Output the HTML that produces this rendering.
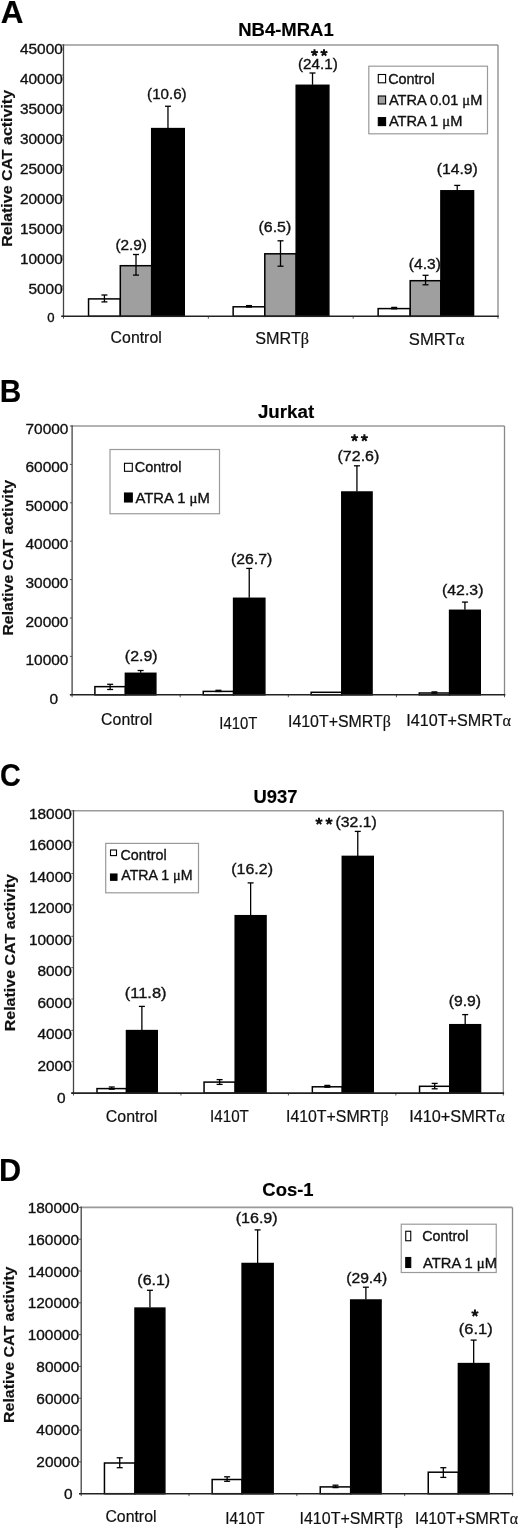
<!DOCTYPE html>
<html><head><meta charset="utf-8"><style>
html,body{margin:0;padding:0;background:#fff;width:520px;height:1529px;overflow:hidden}
svg{display:block;will-change:transform;filter:blur(0.3px)}
text{font-family:"Liberation Sans",sans-serif}
</style></head><body>
<svg width="520" height="1529" viewBox="0 0 520 1529">
<rect width="520" height="1529" fill="#fff"/>
<text transform="translate(0.76,22.50) scale(1.0225,1)" font-size="30.8" font-weight="bold" fill="#000" stroke="#000" stroke-width="0.15">A</text>
<text transform="translate(238.21,35.50) scale(1.0273,1)" font-size="18" font-weight="bold" fill="#000" stroke="#000" stroke-width="0.15">NB4-MRA1</text>
<text transform="translate(11.70,246.72) rotate(-90) scale(1.1017,1)" font-size="14.5" font-weight="bold" fill="#111" stroke="#111" stroke-width="0.15">Relative CAT activity</text>
<text transform="translate(19.95,53.90) scale(1.0350,1)" font-size="14.9" fill="#111" stroke="#111" stroke-width="0.35">45000</text>
<text transform="translate(19.95,83.93) scale(1.0350,1)" font-size="14.9" fill="#111" stroke="#111" stroke-width="0.35">40000</text>
<text transform="translate(19.95,113.96) scale(1.0350,1)" font-size="14.9" fill="#111" stroke="#111" stroke-width="0.35">35000</text>
<text transform="translate(19.95,143.99) scale(1.0350,1)" font-size="14.9" fill="#111" stroke="#111" stroke-width="0.35">30000</text>
<text transform="translate(19.95,174.02) scale(1.0350,1)" font-size="14.9" fill="#111" stroke="#111" stroke-width="0.35">25000</text>
<text transform="translate(19.95,204.05) scale(1.0350,1)" font-size="14.9" fill="#111" stroke="#111" stroke-width="0.35">20000</text>
<text transform="translate(19.95,234.08) scale(1.0350,1)" font-size="14.9" fill="#111" stroke="#111" stroke-width="0.35">15000</text>
<text transform="translate(19.95,264.11) scale(1.0350,1)" font-size="14.9" fill="#111" stroke="#111" stroke-width="0.35">10000</text>
<text transform="translate(28.43,294.14) scale(1.0350,1)" font-size="14.9" fill="#111" stroke="#111" stroke-width="0.35">5000</text>
<text transform="translate(47.26,322.00) scale(1.0350,1)" font-size="12.7" fill="#111" stroke="#111" stroke-width="0.35">0</text>
<line x1="61.30" y1="45.00" x2="63.50" y2="45.00" stroke="#555" stroke-width="1.0"/>
<line x1="61.30" y1="75.14" x2="63.50" y2="75.14" stroke="#555" stroke-width="1.0"/>
<line x1="61.30" y1="105.29" x2="63.50" y2="105.29" stroke="#555" stroke-width="1.0"/>
<line x1="61.30" y1="135.43" x2="63.50" y2="135.43" stroke="#555" stroke-width="1.0"/>
<line x1="61.30" y1="165.58" x2="63.50" y2="165.58" stroke="#555" stroke-width="1.0"/>
<line x1="61.30" y1="195.72" x2="63.50" y2="195.72" stroke="#555" stroke-width="1.0"/>
<line x1="61.30" y1="225.87" x2="63.50" y2="225.87" stroke="#555" stroke-width="1.0"/>
<line x1="61.30" y1="256.01" x2="63.50" y2="256.01" stroke="#555" stroke-width="1.0"/>
<line x1="61.30" y1="286.16" x2="63.50" y2="286.16" stroke="#555" stroke-width="1.0"/>
<line x1="61.30" y1="316.30" x2="63.50" y2="316.30" stroke="#555" stroke-width="1.0"/>
<line x1="63.50" y1="316.30" x2="63.50" y2="318.70" stroke="#555" stroke-width="1.0"/>
<line x1="208.33" y1="316.30" x2="208.33" y2="318.70" stroke="#555" stroke-width="1.0"/>
<line x1="353.17" y1="316.30" x2="353.17" y2="318.70" stroke="#555" stroke-width="1.0"/>
<line x1="498.00" y1="316.30" x2="498.00" y2="318.70" stroke="#555" stroke-width="1.0"/>
<rect x="88.55" y="298.90" width="31.75" height="17.40" fill="#fff" stroke="#000" stroke-width="1.5"/>
<rect x="120.30" y="265.70" width="31.40" height="50.60" fill="#9f9f9f" stroke="#000" stroke-width="1.5"/>
<rect x="151.70" y="128.60" width="32.55" height="187.70" fill="#000" stroke="#000" stroke-width="1.5"/>
<line x1="104.42" y1="295.00" x2="104.42" y2="301.90" stroke="#000" stroke-width="1.3"/>
<line x1="101.42" y1="295.00" x2="107.42" y2="295.00" stroke="#000" stroke-width="1.3"/>
<line x1="101.42" y1="301.90" x2="107.42" y2="301.90" stroke="#000" stroke-width="1.3"/>
<line x1="136.00" y1="254.50" x2="136.00" y2="275.10" stroke="#000" stroke-width="1.3"/>
<line x1="133.00" y1="254.50" x2="139.00" y2="254.50" stroke="#000" stroke-width="1.3"/>
<line x1="133.00" y1="275.10" x2="139.00" y2="275.10" stroke="#000" stroke-width="1.3"/>
<line x1="167.97" y1="106.25" x2="167.97" y2="128.10" stroke="#000" stroke-width="1.3"/>
<line x1="164.97" y1="106.25" x2="170.97" y2="106.25" stroke="#000" stroke-width="1.3"/>
<rect x="233.15" y="306.80" width="31.65" height="9.50" fill="#fff" stroke="#000" stroke-width="1.5"/>
<rect x="264.80" y="253.80" width="31.40" height="62.50" fill="#9f9f9f" stroke="#000" stroke-width="1.5"/>
<rect x="296.20" y="85.30" width="32.65" height="231.00" fill="#000" stroke="#000" stroke-width="1.5"/>
<line x1="248.98" y1="305.60" x2="248.98" y2="307.00" stroke="#000" stroke-width="1.3"/>
<line x1="245.98" y1="305.60" x2="251.98" y2="305.60" stroke="#000" stroke-width="1.3"/>
<line x1="245.98" y1="307.00" x2="251.98" y2="307.00" stroke="#000" stroke-width="1.3"/>
<line x1="280.50" y1="240.80" x2="280.50" y2="266.20" stroke="#000" stroke-width="1.3"/>
<line x1="277.50" y1="240.80" x2="283.50" y2="240.80" stroke="#000" stroke-width="1.3"/>
<line x1="277.50" y1="266.20" x2="283.50" y2="266.20" stroke="#000" stroke-width="1.3"/>
<line x1="312.52" y1="73.00" x2="312.52" y2="84.80" stroke="#000" stroke-width="1.3"/>
<line x1="309.52" y1="73.00" x2="315.52" y2="73.00" stroke="#000" stroke-width="1.3"/>
<rect x="378.15" y="308.60" width="32.05" height="7.70" fill="#fff" stroke="#000" stroke-width="1.5"/>
<rect x="410.20" y="280.70" width="30.70" height="35.60" fill="#9f9f9f" stroke="#000" stroke-width="1.5"/>
<rect x="440.90" y="190.80" width="32.65" height="125.50" fill="#000" stroke="#000" stroke-width="1.5"/>
<line x1="394.17" y1="307.40" x2="394.17" y2="308.80" stroke="#000" stroke-width="1.3"/>
<line x1="391.17" y1="307.40" x2="397.17" y2="307.40" stroke="#000" stroke-width="1.3"/>
<line x1="391.17" y1="308.80" x2="397.17" y2="308.80" stroke="#000" stroke-width="1.3"/>
<line x1="425.55" y1="275.30" x2="425.55" y2="284.80" stroke="#000" stroke-width="1.3"/>
<line x1="422.55" y1="275.30" x2="428.55" y2="275.30" stroke="#000" stroke-width="1.3"/>
<line x1="422.55" y1="284.80" x2="428.55" y2="284.80" stroke="#000" stroke-width="1.3"/>
<line x1="457.23" y1="185.40" x2="457.23" y2="190.30" stroke="#000" stroke-width="1.3"/>
<line x1="454.23" y1="185.40" x2="460.23" y2="185.40" stroke="#000" stroke-width="1.3"/>
<line x1="63.50" y1="45.00" x2="498.00" y2="45.00" stroke="#999" stroke-width="1.6"/>
<line x1="498.00" y1="45.00" x2="498.00" y2="316.30" stroke="#888" stroke-width="1.3"/>
<line x1="63.50" y1="44.20" x2="63.50" y2="316.30" stroke="#444" stroke-width="1.3"/>
<line x1="61.30" y1="316.30" x2="498.80" y2="316.30" stroke="#222" stroke-width="1.6"/>
<rect x="368.80" y="66.20" width="118.70" height="67.60" fill="#fff" stroke="#9a9a9a" stroke-width="1.2"/>
<rect x="378.30" y="74.50" width="7.30" height="8.30" fill="#fff" stroke="#000" stroke-width="1.1"/>
<text transform="translate(388.18,83.80) scale(1.0301,1)" font-size="14" fill="#111" stroke="#111" stroke-width="0.35">Control</text>
<rect x="378.30" y="96.00" width="7.30" height="8.00" fill="#9f9f9f" stroke="#000" stroke-width="1.1"/>
<text transform="translate(388.90,105.00) scale(1.0421,1)" font-size="14" fill="#111" stroke="#111" stroke-width="0.35">ATRA 0.01 <tspan font-family="Liberation Serif">μ</tspan>M</text>
<rect x="378.30" y="117.60" width="7.30" height="8.00" fill="#000" stroke="#000" stroke-width="1.1"/>
<text transform="translate(388.90,126.30) scale(1.0461,1)" font-size="14" fill="#111" stroke="#111" stroke-width="0.35">ATRA 1 <tspan font-family="Liberation Serif">μ</tspan>M</text>
<text transform="translate(110.61,342.60) scale(0.9735,1)" font-size="16.3" fill="#111" stroke="#111" stroke-width="0.2">Control</text>
<text transform="translate(255.29,343.80) scale(0.9934,1)" font-size="16.3" fill="#111" stroke="#111" stroke-width="0.2">SMRT<tspan font-family="Liberation Serif">β</tspan></text>
<text transform="translate(408.87,344.80) scale(1.0200,1)" font-size="16.3" fill="#111" stroke="#111" stroke-width="0.2">SMRT<tspan font-family="Liberation Serif">α</tspan></text>
<text transform="translate(115.38,249.50) scale(1.0540,1)" font-size="14.6" fill="#111" stroke="#111" stroke-width="0.35">(2.9)</text>
<text transform="translate(147.09,99.30) scale(1.0370,1)" font-size="14.6" fill="#111" stroke="#111" stroke-width="0.35">(10.6)</text>
<text transform="translate(258.55,232.00) scale(1.0895,1)" font-size="14.6" fill="#111" stroke="#111" stroke-width="0.35">(6.5)</text>
<text transform="translate(297.98,69.30) scale(1.0453,1)" font-size="14.6" fill="#111" stroke="#111" stroke-width="0.35">(24.1)</text>
<path d="M314.50,52.80L314.50,49.20M314.50,52.80L317.92,51.69M314.50,52.80L316.62,55.71M314.50,52.80L312.38,55.71M314.50,52.80L311.08,51.69" stroke="#111" stroke-width="2.0" stroke-linecap="butt" fill="none"/>
<path d="M324.00,52.80L324.00,49.20M324.00,52.80L327.42,51.69M324.00,52.80L326.12,55.71M324.00,52.80L321.88,55.71M324.00,52.80L320.58,51.69" stroke="#111" stroke-width="2.0" stroke-linecap="butt" fill="none"/>
<text transform="translate(436.76,173.80) scale(1.0755,1)" font-size="14.6" fill="#111" stroke="#111" stroke-width="0.35">(14.9)</text>
<text transform="translate(408.87,269.20) scale(1.0647,1)" font-size="14.6" fill="#111" stroke="#111" stroke-width="0.35">(4.3)</text>
<text transform="translate(-0.29,401.80) scale(0.9687,1)" font-size="30.8" font-weight="bold" fill="#000" stroke="#000" stroke-width="0.15">B</text>
<text transform="translate(257.92,417.90) scale(1.0419,1)" font-size="18" font-weight="bold" fill="#000" stroke="#000" stroke-width="0.15">Jurkat</text>
<text transform="translate(13.30,635.61) rotate(-90) scale(1.0940,1)" font-size="14.5" font-weight="bold" fill="#111" stroke="#111" stroke-width="0.15">Relative CAT activity</text>
<text transform="translate(25.55,433.65) scale(1.0350,1)" font-size="14.9" fill="#111" stroke="#111" stroke-width="0.35">70000</text>
<text transform="translate(25.55,472.25) scale(1.0350,1)" font-size="14.9" fill="#111" stroke="#111" stroke-width="0.35">60000</text>
<text transform="translate(25.55,510.85) scale(1.0350,1)" font-size="14.9" fill="#111" stroke="#111" stroke-width="0.35">50000</text>
<text transform="translate(25.55,549.45) scale(1.0350,1)" font-size="14.9" fill="#111" stroke="#111" stroke-width="0.35">40000</text>
<text transform="translate(25.55,588.05) scale(1.0350,1)" font-size="14.9" fill="#111" stroke="#111" stroke-width="0.35">30000</text>
<text transform="translate(25.55,626.65) scale(1.0350,1)" font-size="14.9" fill="#111" stroke="#111" stroke-width="0.35">20000</text>
<text transform="translate(25.55,665.25) scale(1.0350,1)" font-size="14.9" fill="#111" stroke="#111" stroke-width="0.35">10000</text>
<text transform="translate(49.48,703.50) scale(1.0350,1)" font-size="14.9" fill="#111" stroke="#111" stroke-width="0.35">0</text>
<line x1="69.90" y1="426.00" x2="72.10" y2="426.00" stroke="#555" stroke-width="1.0"/>
<line x1="69.90" y1="464.40" x2="72.10" y2="464.40" stroke="#555" stroke-width="1.0"/>
<line x1="69.90" y1="502.80" x2="72.10" y2="502.80" stroke="#555" stroke-width="1.0"/>
<line x1="69.90" y1="541.20" x2="72.10" y2="541.20" stroke="#555" stroke-width="1.0"/>
<line x1="69.90" y1="579.60" x2="72.10" y2="579.60" stroke="#555" stroke-width="1.0"/>
<line x1="69.90" y1="618.00" x2="72.10" y2="618.00" stroke="#555" stroke-width="1.0"/>
<line x1="69.90" y1="656.40" x2="72.10" y2="656.40" stroke="#555" stroke-width="1.0"/>
<line x1="69.90" y1="694.80" x2="72.10" y2="694.80" stroke="#555" stroke-width="1.0"/>
<line x1="72.10" y1="694.80" x2="72.10" y2="697.20" stroke="#555" stroke-width="1.0"/>
<line x1="180.20" y1="694.80" x2="180.20" y2="697.20" stroke="#555" stroke-width="1.0"/>
<line x1="288.30" y1="694.80" x2="288.30" y2="697.20" stroke="#555" stroke-width="1.0"/>
<line x1="396.40" y1="694.80" x2="396.40" y2="697.20" stroke="#555" stroke-width="1.0"/>
<line x1="504.50" y1="694.80" x2="504.50" y2="697.20" stroke="#555" stroke-width="1.0"/>
<rect x="94.90" y="686.65" width="30.50" height="8.15" fill="#fff" stroke="#000" stroke-width="1.5"/>
<rect x="125.40" y="673.30" width="30.45" height="21.50" fill="#000" stroke="#000" stroke-width="1.5"/>
<line x1="110.15" y1="684.30" x2="110.15" y2="689.50" stroke="#000" stroke-width="1.3"/>
<line x1="107.15" y1="684.30" x2="113.15" y2="684.30" stroke="#000" stroke-width="1.3"/>
<line x1="107.15" y1="689.50" x2="113.15" y2="689.50" stroke="#000" stroke-width="1.3"/>
<line x1="140.62" y1="670.50" x2="140.62" y2="672.80" stroke="#000" stroke-width="1.3"/>
<line x1="137.62" y1="670.50" x2="143.62" y2="670.50" stroke="#000" stroke-width="1.3"/>
<rect x="203.25" y="691.40" width="30.35" height="3.40" fill="#fff" stroke="#000" stroke-width="1.5"/>
<rect x="233.60" y="598.30" width="31.25" height="96.50" fill="#000" stroke="#000" stroke-width="1.5"/>
<line x1="218.43" y1="690.30" x2="218.43" y2="691.50" stroke="#000" stroke-width="1.3"/>
<line x1="215.43" y1="690.30" x2="221.43" y2="690.30" stroke="#000" stroke-width="1.3"/>
<line x1="215.43" y1="691.50" x2="221.43" y2="691.50" stroke="#000" stroke-width="1.3"/>
<line x1="249.23" y1="568.40" x2="249.23" y2="597.80" stroke="#000" stroke-width="1.3"/>
<line x1="246.23" y1="568.40" x2="252.23" y2="568.40" stroke="#000" stroke-width="1.3"/>
<rect x="311.15" y="692.30" width="30.65" height="2.50" fill="#fff" stroke="#000" stroke-width="1.5"/>
<rect x="341.80" y="492.00" width="30.25" height="202.80" fill="#000" stroke="#000" stroke-width="1.5"/>
<line x1="356.93" y1="465.80" x2="356.93" y2="491.50" stroke="#000" stroke-width="1.3"/>
<line x1="353.93" y1="465.80" x2="359.93" y2="465.80" stroke="#000" stroke-width="1.3"/>
<rect x="419.25" y="693.00" width="30.35" height="1.80" fill="#fff" stroke="#000" stroke-width="1.5"/>
<rect x="449.60" y="610.30" width="30.65" height="84.50" fill="#000" stroke="#000" stroke-width="1.5"/>
<line x1="434.43" y1="691.90" x2="434.43" y2="693.10" stroke="#000" stroke-width="1.3"/>
<line x1="431.43" y1="691.90" x2="437.43" y2="691.90" stroke="#000" stroke-width="1.3"/>
<line x1="431.43" y1="693.10" x2="437.43" y2="693.10" stroke="#000" stroke-width="1.3"/>
<line x1="464.93" y1="602.10" x2="464.93" y2="609.80" stroke="#000" stroke-width="1.3"/>
<line x1="461.93" y1="602.10" x2="467.93" y2="602.10" stroke="#000" stroke-width="1.3"/>
<line x1="72.10" y1="426.00" x2="504.50" y2="426.00" stroke="#999" stroke-width="1.6"/>
<line x1="504.50" y1="426.00" x2="504.50" y2="694.80" stroke="#888" stroke-width="1.3"/>
<line x1="72.10" y1="425.20" x2="72.10" y2="694.80" stroke="#444" stroke-width="1.3"/>
<line x1="69.90" y1="694.80" x2="505.30" y2="694.80" stroke="#222" stroke-width="1.6"/>
<rect x="110.00" y="449.50" width="109.50" height="64.25" fill="#fff" stroke="#9a9a9a" stroke-width="1.2"/>
<rect x="124.50" y="463.30" width="7.80" height="8.00" fill="#fff" stroke="#000" stroke-width="1.1"/>
<text transform="translate(134.78,471.75) scale(1.0335,1)" font-size="14" fill="#111" stroke="#111" stroke-width="0.35">Control</text>
<rect x="124.50" y="493.00" width="7.80" height="9.00" fill="#000" stroke="#000" stroke-width="1.1"/>
<text transform="translate(135.50,502.50) scale(1.0591,1)" font-size="14" fill="#111" stroke="#111" stroke-width="0.35">ATRA 1 <tspan font-family="Liberation Serif">μ</tspan>M</text>
<text transform="translate(101.11,725.40) scale(0.9735,1)" font-size="16.3" fill="#111" stroke="#111" stroke-width="0.2">Control</text>
<text transform="translate(219.26,728.60) scale(0.9140,1)" font-size="16.3" fill="#111" stroke="#111" stroke-width="0.2">I410T</text>
<text transform="translate(287.97,727.00) scale(0.9764,1)" font-size="16.3" fill="#111" stroke="#111" stroke-width="0.2">I410T+SMRT<tspan font-family="Liberation Serif">β</tspan></text>
<text transform="translate(406.24,726.10) scale(0.9930,1)" font-size="16.3" fill="#111" stroke="#111" stroke-width="0.2">I410T+SMRT<tspan font-family="Liberation Serif">α</tspan></text>
<text transform="translate(124.85,660.50) scale(1.0895,1)" font-size="14.6" fill="#111" stroke="#111" stroke-width="0.35">(2.9)</text>
<text transform="translate(231.05,563.70) scale(1.0810,1)" font-size="14.6" fill="#111" stroke="#111" stroke-width="0.35">(26.7)</text>
<text transform="translate(337.54,460.60) scale(1.0975,1)" font-size="14.6" fill="#111" stroke="#111" stroke-width="0.35">(72.6)</text>
<path d="M354.55,437.95L354.55,434.35M354.55,437.95L357.97,436.84M354.55,437.95L356.67,440.86M354.55,437.95L352.43,440.86M354.55,437.95L351.13,436.84" stroke="#111" stroke-width="2.0" stroke-linecap="butt" fill="none"/>
<path d="M364.40,437.95L364.40,434.35M364.40,437.95L367.82,436.84M364.40,437.95L366.52,440.86M364.40,437.95L362.28,440.86M364.40,437.95L360.98,436.84" stroke="#111" stroke-width="2.0" stroke-linecap="butt" fill="none"/>
<text transform="translate(441.95,595.30) scale(1.0893,1)" font-size="14.6" fill="#111" stroke="#111" stroke-width="0.35">(42.3)</text>
<text transform="translate(0.10,785.80) scale(0.9366,1)" font-size="30.8" font-weight="bold" fill="#000" stroke="#000" stroke-width="0.15">C</text>
<text transform="translate(253.49,803.40) scale(1.0234,1)" font-size="18" font-weight="bold" fill="#000" stroke="#000" stroke-width="0.15">U937</text>
<text transform="translate(14.90,1031.32) rotate(-90) scale(1.1053,1)" font-size="14.5" font-weight="bold" fill="#111" stroke="#111" stroke-width="0.15">Relative CAT activity</text>
<text transform="translate(28.95,818.80) scale(1.0350,1)" font-size="14.9" fill="#111" stroke="#111" stroke-width="0.35">18000</text>
<text transform="translate(28.95,850.29) scale(1.0350,1)" font-size="14.9" fill="#111" stroke="#111" stroke-width="0.35">16000</text>
<text transform="translate(28.95,881.78) scale(1.0350,1)" font-size="14.9" fill="#111" stroke="#111" stroke-width="0.35">14000</text>
<text transform="translate(28.95,913.27) scale(1.0350,1)" font-size="14.9" fill="#111" stroke="#111" stroke-width="0.35">12000</text>
<text transform="translate(28.95,944.76) scale(1.0350,1)" font-size="14.9" fill="#111" stroke="#111" stroke-width="0.35">10000</text>
<text transform="translate(37.43,976.25) scale(1.0350,1)" font-size="14.9" fill="#111" stroke="#111" stroke-width="0.35">8000</text>
<text transform="translate(37.43,1007.74) scale(1.0350,1)" font-size="14.9" fill="#111" stroke="#111" stroke-width="0.35">6000</text>
<text transform="translate(37.43,1039.23) scale(1.0350,1)" font-size="14.9" fill="#111" stroke="#111" stroke-width="0.35">4000</text>
<text transform="translate(37.43,1070.72) scale(1.0350,1)" font-size="14.9" fill="#111" stroke="#111" stroke-width="0.35">2000</text>
<text transform="translate(56.88,1102.80) scale(1.0350,1)" font-size="14.9" fill="#111" stroke="#111" stroke-width="0.35">0</text>
<line x1="71.30" y1="810.80" x2="73.50" y2="810.80" stroke="#555" stroke-width="1.0"/>
<line x1="71.30" y1="842.17" x2="73.50" y2="842.17" stroke="#555" stroke-width="1.0"/>
<line x1="71.30" y1="873.53" x2="73.50" y2="873.53" stroke="#555" stroke-width="1.0"/>
<line x1="71.30" y1="904.90" x2="73.50" y2="904.90" stroke="#555" stroke-width="1.0"/>
<line x1="71.30" y1="936.27" x2="73.50" y2="936.27" stroke="#555" stroke-width="1.0"/>
<line x1="71.30" y1="967.63" x2="73.50" y2="967.63" stroke="#555" stroke-width="1.0"/>
<line x1="71.30" y1="999.00" x2="73.50" y2="999.00" stroke="#555" stroke-width="1.0"/>
<line x1="71.30" y1="1030.37" x2="73.50" y2="1030.37" stroke="#555" stroke-width="1.0"/>
<line x1="71.30" y1="1061.73" x2="73.50" y2="1061.73" stroke="#555" stroke-width="1.0"/>
<line x1="71.30" y1="1093.10" x2="73.50" y2="1093.10" stroke="#555" stroke-width="1.0"/>
<line x1="73.50" y1="1093.10" x2="73.50" y2="1095.50" stroke="#555" stroke-width="1.0"/>
<line x1="180.95" y1="1093.10" x2="180.95" y2="1095.50" stroke="#555" stroke-width="1.0"/>
<line x1="288.40" y1="1093.10" x2="288.40" y2="1095.50" stroke="#555" stroke-width="1.0"/>
<line x1="395.85" y1="1093.10" x2="395.85" y2="1095.50" stroke="#555" stroke-width="1.0"/>
<line x1="503.30" y1="1093.10" x2="503.30" y2="1095.50" stroke="#555" stroke-width="1.0"/>
<rect x="97.00" y="1088.60" width="29.50" height="4.50" fill="#fff" stroke="#000" stroke-width="1.5"/>
<rect x="126.50" y="1030.60" width="30.75" height="62.50" fill="#000" stroke="#000" stroke-width="1.5"/>
<line x1="111.75" y1="1087.00" x2="111.75" y2="1089.20" stroke="#000" stroke-width="1.3"/>
<line x1="108.75" y1="1087.00" x2="114.75" y2="1087.00" stroke="#000" stroke-width="1.3"/>
<line x1="108.75" y1="1089.20" x2="114.75" y2="1089.20" stroke="#000" stroke-width="1.3"/>
<line x1="141.88" y1="1006.40" x2="141.88" y2="1030.10" stroke="#000" stroke-width="1.3"/>
<line x1="138.88" y1="1006.40" x2="144.88" y2="1006.40" stroke="#000" stroke-width="1.3"/>
<rect x="204.05" y="1082.10" width="31.15" height="11.00" fill="#fff" stroke="#000" stroke-width="1.5"/>
<rect x="235.20" y="915.70" width="30.85" height="177.40" fill="#000" stroke="#000" stroke-width="1.5"/>
<line x1="219.62" y1="1079.60" x2="219.62" y2="1084.40" stroke="#000" stroke-width="1.3"/>
<line x1="216.62" y1="1079.60" x2="222.62" y2="1079.60" stroke="#000" stroke-width="1.3"/>
<line x1="216.62" y1="1084.40" x2="222.62" y2="1084.40" stroke="#000" stroke-width="1.3"/>
<line x1="250.62" y1="882.90" x2="250.62" y2="915.20" stroke="#000" stroke-width="1.3"/>
<line x1="247.62" y1="882.90" x2="253.62" y2="882.90" stroke="#000" stroke-width="1.3"/>
<rect x="312.35" y="1086.80" width="29.95" height="6.30" fill="#fff" stroke="#000" stroke-width="1.5"/>
<rect x="342.30" y="856.40" width="30.95" height="236.70" fill="#000" stroke="#000" stroke-width="1.5"/>
<line x1="327.33" y1="1085.40" x2="327.33" y2="1087.20" stroke="#000" stroke-width="1.3"/>
<line x1="324.33" y1="1085.40" x2="330.33" y2="1085.40" stroke="#000" stroke-width="1.3"/>
<line x1="324.33" y1="1087.20" x2="330.33" y2="1087.20" stroke="#000" stroke-width="1.3"/>
<line x1="357.77" y1="831.40" x2="357.77" y2="855.90" stroke="#000" stroke-width="1.3"/>
<line x1="354.77" y1="831.40" x2="360.77" y2="831.40" stroke="#000" stroke-width="1.3"/>
<rect x="419.55" y="1086.30" width="30.25" height="6.80" fill="#fff" stroke="#000" stroke-width="1.5"/>
<rect x="449.80" y="1024.70" width="30.75" height="68.40" fill="#000" stroke="#000" stroke-width="1.5"/>
<line x1="434.68" y1="1083.40" x2="434.68" y2="1088.80" stroke="#000" stroke-width="1.3"/>
<line x1="431.68" y1="1083.40" x2="437.68" y2="1083.40" stroke="#000" stroke-width="1.3"/>
<line x1="431.68" y1="1088.80" x2="437.68" y2="1088.80" stroke="#000" stroke-width="1.3"/>
<line x1="465.18" y1="1014.60" x2="465.18" y2="1024.20" stroke="#000" stroke-width="1.3"/>
<line x1="462.18" y1="1014.60" x2="468.18" y2="1014.60" stroke="#000" stroke-width="1.3"/>
<line x1="73.50" y1="810.80" x2="503.30" y2="810.80" stroke="#999" stroke-width="1.6"/>
<line x1="503.30" y1="810.80" x2="503.30" y2="1093.10" stroke="#888" stroke-width="1.3"/>
<line x1="73.50" y1="810.00" x2="73.50" y2="1093.10" stroke="#444" stroke-width="1.3"/>
<line x1="71.30" y1="1093.10" x2="504.10" y2="1093.10" stroke="#222" stroke-width="1.6"/>
<rect x="105.70" y="843.40" width="92.80" height="49.40" fill="#fff" stroke="#9a9a9a" stroke-width="1.2"/>
<rect x="110.50" y="850.00" width="6.00" height="5.60" fill="#fff" stroke="#000" stroke-width="1.1"/>
<text transform="translate(120.48,860.00) scale(1.0220,1)" font-size="14" fill="#111" stroke="#111" stroke-width="0.35">Control</text>
<rect x="110.50" y="874.00" width="6.50" height="6.30" fill="#000" stroke="#000" stroke-width="1.1"/>
<text transform="translate(121.20,880.30) scale(1.0165,1)" font-size="14" fill="#111" stroke="#111" stroke-width="0.35">ATRA 1 <tspan font-family="Liberation Serif">μ</tspan>M</text>
<text transform="translate(105.80,1122.40) scale(0.9794,1)" font-size="16.3" fill="#111" stroke="#111" stroke-width="0.2">Control</text>
<text transform="translate(210.03,1122.40) scale(0.9315,1)" font-size="16.3" fill="#111" stroke="#111" stroke-width="0.2">I410T</text>
<text transform="translate(285.97,1122.40) scale(0.9744,1)" font-size="16.3" fill="#111" stroke="#111" stroke-width="0.2">I410T+SMRT<tspan font-family="Liberation Serif">β</tspan></text>
<text transform="translate(409.13,1122.40) scale(1.0001,1)" font-size="16.3" fill="#111" stroke="#111" stroke-width="0.2">I410+SMRT<tspan font-family="Liberation Serif">α</tspan></text>
<text transform="translate(124.71,997.80) scale(1.1311,1)" font-size="14.6" fill="#111" stroke="#111" stroke-width="0.35">(11.8)</text>
<text transform="translate(231.24,873.90) scale(1.0948,1)" font-size="14.6" fill="#111" stroke="#111" stroke-width="0.35">(16.2)</text>
<path d="M319.00,821.35L319.00,817.75M319.00,821.35L322.42,820.24M319.00,821.35L321.12,824.26M319.00,821.35L316.88,824.26M319.00,821.35L315.58,820.24" stroke="#111" stroke-width="2.0" stroke-linecap="butt" fill="none"/>
<path d="M329.05,821.35L329.05,817.75M329.05,821.35L332.47,820.24M329.05,821.35L331.17,824.26M329.05,821.35L326.93,824.26M329.05,821.35L325.63,820.24" stroke="#111" stroke-width="2.0" stroke-linecap="butt" fill="none"/>
<text transform="translate(335.55,826.50) scale(1.0838,1)" font-size="14.6" fill="#111" stroke="#111" stroke-width="0.35">(32.1)</text>
<text transform="translate(448.65,1006.30) scale(1.0789,1)" font-size="14.6" fill="#111" stroke="#111" stroke-width="0.35">(9.9)</text>
<text transform="translate(-0.90,1180.50) scale(0.9980,1)" font-size="30.8" font-weight="bold" fill="#000" stroke="#000" stroke-width="0.15">D</text>
<text transform="translate(262.36,1196.20) scale(1.0250,1)" font-size="18" font-weight="bold" fill="#000" stroke="#000" stroke-width="0.15">Cos-1</text>
<text transform="translate(14.10,1422.92) rotate(-90) scale(1.0996,1)" font-size="14.5" font-weight="bold" fill="#111" stroke="#111" stroke-width="0.15">Relative CAT activity</text>
<text transform="translate(27.71,1213.00) scale(1.0350,1)" font-size="14.9" fill="#111" stroke="#111" stroke-width="0.35">180000</text>
<text transform="translate(27.71,1244.76) scale(1.0350,1)" font-size="14.9" fill="#111" stroke="#111" stroke-width="0.35">160000</text>
<text transform="translate(27.71,1276.52) scale(1.0350,1)" font-size="14.9" fill="#111" stroke="#111" stroke-width="0.35">140000</text>
<text transform="translate(27.71,1308.28) scale(1.0350,1)" font-size="14.9" fill="#111" stroke="#111" stroke-width="0.35">120000</text>
<text transform="translate(27.71,1340.04) scale(1.0350,1)" font-size="14.9" fill="#111" stroke="#111" stroke-width="0.35">100000</text>
<text transform="translate(36.35,1371.80) scale(1.0350,1)" font-size="14.9" fill="#111" stroke="#111" stroke-width="0.35">80000</text>
<text transform="translate(36.35,1403.56) scale(1.0350,1)" font-size="14.9" fill="#111" stroke="#111" stroke-width="0.35">60000</text>
<text transform="translate(36.35,1435.32) scale(1.0350,1)" font-size="14.9" fill="#111" stroke="#111" stroke-width="0.35">40000</text>
<text transform="translate(36.35,1467.08) scale(1.0350,1)" font-size="14.9" fill="#111" stroke="#111" stroke-width="0.35">20000</text>
<text transform="translate(63.98,1498.90) scale(1.0350,1)" font-size="14.9" fill="#111" stroke="#111" stroke-width="0.35">0</text>
<line x1="79.00" y1="1207.40" x2="81.20" y2="1207.40" stroke="#555" stroke-width="1.0"/>
<line x1="79.00" y1="1239.21" x2="81.20" y2="1239.21" stroke="#555" stroke-width="1.0"/>
<line x1="79.00" y1="1271.02" x2="81.20" y2="1271.02" stroke="#555" stroke-width="1.0"/>
<line x1="79.00" y1="1302.83" x2="81.20" y2="1302.83" stroke="#555" stroke-width="1.0"/>
<line x1="79.00" y1="1334.64" x2="81.20" y2="1334.64" stroke="#555" stroke-width="1.0"/>
<line x1="79.00" y1="1366.46" x2="81.20" y2="1366.46" stroke="#555" stroke-width="1.0"/>
<line x1="79.00" y1="1398.27" x2="81.20" y2="1398.27" stroke="#555" stroke-width="1.0"/>
<line x1="79.00" y1="1430.08" x2="81.20" y2="1430.08" stroke="#555" stroke-width="1.0"/>
<line x1="79.00" y1="1461.89" x2="81.20" y2="1461.89" stroke="#555" stroke-width="1.0"/>
<line x1="79.00" y1="1493.70" x2="81.20" y2="1493.70" stroke="#555" stroke-width="1.0"/>
<line x1="81.20" y1="1493.70" x2="81.20" y2="1496.10" stroke="#555" stroke-width="1.0"/>
<line x1="189.03" y1="1493.70" x2="189.03" y2="1496.10" stroke="#555" stroke-width="1.0"/>
<line x1="296.85" y1="1493.70" x2="296.85" y2="1496.10" stroke="#555" stroke-width="1.0"/>
<line x1="404.68" y1="1493.70" x2="404.68" y2="1496.10" stroke="#555" stroke-width="1.0"/>
<line x1="512.50" y1="1493.70" x2="512.50" y2="1496.10" stroke="#555" stroke-width="1.0"/>
<rect x="104.45" y="1463.00" width="30.55" height="30.70" fill="#fff" stroke="#000" stroke-width="1.5"/>
<rect x="135.00" y="1308.10" width="29.85" height="185.60" fill="#000" stroke="#000" stroke-width="1.5"/>
<line x1="119.72" y1="1457.80" x2="119.72" y2="1467.70" stroke="#000" stroke-width="1.3"/>
<line x1="116.72" y1="1457.80" x2="122.72" y2="1457.80" stroke="#000" stroke-width="1.3"/>
<line x1="116.72" y1="1467.70" x2="122.72" y2="1467.70" stroke="#000" stroke-width="1.3"/>
<line x1="149.93" y1="1290.30" x2="149.93" y2="1307.60" stroke="#000" stroke-width="1.3"/>
<line x1="146.93" y1="1290.30" x2="152.93" y2="1290.30" stroke="#000" stroke-width="1.3"/>
<rect x="212.15" y="1479.50" width="29.95" height="14.20" fill="#fff" stroke="#000" stroke-width="1.5"/>
<rect x="242.10" y="1263.50" width="31.05" height="230.20" fill="#000" stroke="#000" stroke-width="1.5"/>
<line x1="227.12" y1="1476.80" x2="227.12" y2="1481.30" stroke="#000" stroke-width="1.3"/>
<line x1="224.12" y1="1476.80" x2="230.12" y2="1476.80" stroke="#000" stroke-width="1.3"/>
<line x1="224.12" y1="1481.30" x2="230.12" y2="1481.30" stroke="#000" stroke-width="1.3"/>
<line x1="257.62" y1="1229.90" x2="257.62" y2="1263.00" stroke="#000" stroke-width="1.3"/>
<line x1="254.62" y1="1229.90" x2="260.62" y2="1229.90" stroke="#000" stroke-width="1.3"/>
<rect x="320.25" y="1486.90" width="30.45" height="6.80" fill="#fff" stroke="#000" stroke-width="1.5"/>
<rect x="350.70" y="1300.00" width="30.35" height="193.70" fill="#000" stroke="#000" stroke-width="1.5"/>
<line x1="335.48" y1="1485.20" x2="335.48" y2="1487.60" stroke="#000" stroke-width="1.3"/>
<line x1="332.48" y1="1485.20" x2="338.48" y2="1485.20" stroke="#000" stroke-width="1.3"/>
<line x1="332.48" y1="1487.60" x2="338.48" y2="1487.60" stroke="#000" stroke-width="1.3"/>
<line x1="365.88" y1="1287.20" x2="365.88" y2="1299.50" stroke="#000" stroke-width="1.3"/>
<line x1="362.88" y1="1287.20" x2="368.88" y2="1287.20" stroke="#000" stroke-width="1.3"/>
<rect x="428.25" y="1472.20" width="30.15" height="21.50" fill="#fff" stroke="#000" stroke-width="1.5"/>
<rect x="458.40" y="1363.60" width="30.55" height="130.10" fill="#000" stroke="#000" stroke-width="1.5"/>
<line x1="443.32" y1="1467.70" x2="443.32" y2="1477.40" stroke="#000" stroke-width="1.3"/>
<line x1="440.32" y1="1467.70" x2="446.32" y2="1467.70" stroke="#000" stroke-width="1.3"/>
<line x1="440.32" y1="1477.40" x2="446.32" y2="1477.40" stroke="#000" stroke-width="1.3"/>
<line x1="473.67" y1="1340.10" x2="473.67" y2="1363.10" stroke="#000" stroke-width="1.3"/>
<line x1="470.67" y1="1340.10" x2="476.67" y2="1340.10" stroke="#000" stroke-width="1.3"/>
<line x1="81.20" y1="1207.40" x2="512.50" y2="1207.40" stroke="#999" stroke-width="1.6"/>
<line x1="512.50" y1="1207.40" x2="512.50" y2="1493.70" stroke="#888" stroke-width="1.3"/>
<line x1="81.20" y1="1206.60" x2="81.20" y2="1493.70" stroke="#444" stroke-width="1.3"/>
<line x1="79.00" y1="1493.70" x2="513.30" y2="1493.70" stroke="#222" stroke-width="1.6"/>
<rect x="401.25" y="1224.20" width="95.00" height="48.30" fill="#fff" stroke="#9a9a9a" stroke-width="1.2"/>
<rect x="405.75" y="1231.25" width="5.00" height="9.50" fill="#fff" stroke="#000" stroke-width="1.1"/>
<text transform="translate(422.28,1241.25) scale(1.0220,1)" font-size="14" fill="#111" stroke="#111" stroke-width="0.35">Control</text>
<rect x="405.75" y="1257.50" width="5.00" height="10.00" fill="#000" stroke="#000" stroke-width="1.1"/>
<text transform="translate(423.00,1267.50) scale(1.0555,1)" font-size="14" fill="#111" stroke="#111" stroke-width="0.35">ATRA 1 <tspan font-family="Liberation Serif">μ</tspan>M</text>
<text transform="translate(105.41,1522.40) scale(0.9725,1)" font-size="16.3" fill="#111" stroke="#111" stroke-width="0.2">Control</text>
<text transform="translate(225.32,1523.60) scale(0.9415,1)" font-size="16.3" fill="#111" stroke="#111" stroke-width="0.2">I410T</text>
<text transform="translate(299.56,1523.60) scale(0.9802,1)" font-size="16.3" fill="#111" stroke="#111" stroke-width="0.2">I410T+SMRT<tspan font-family="Liberation Serif">β</tspan></text>
<text transform="translate(414.97,1523.60) scale(0.9766,1)" font-size="16.3" fill="#111" stroke="#111" stroke-width="0.2">I410T+SMRT<tspan font-family="Liberation Serif">α</tspan></text>
<text transform="translate(137.34,1284.80) scale(1.0931,1)" font-size="14.6" fill="#111" stroke="#111" stroke-width="0.35">(6.1)</text>
<text transform="translate(235.63,1223.20) scale(1.1030,1)" font-size="14.6" fill="#111" stroke="#111" stroke-width="0.35">(16.9)</text>
<text transform="translate(346.26,1283.00) scale(1.0728,1)" font-size="14.6" fill="#111" stroke="#111" stroke-width="0.35">(29.4)</text>
<text transform="translate(458.81,1333.80) scale(1.1321,1)" font-size="14.6" fill="#111" stroke="#111" stroke-width="0.35">(6.1)</text>
<path d="M474.95,1313.20L474.95,1309.60M474.95,1313.20L478.37,1312.09M474.95,1313.20L477.07,1316.11M474.95,1313.20L472.83,1316.11M474.95,1313.20L471.53,1312.09" stroke="#111" stroke-width="2.0" stroke-linecap="butt" fill="none"/>
</svg>
</body></html>
